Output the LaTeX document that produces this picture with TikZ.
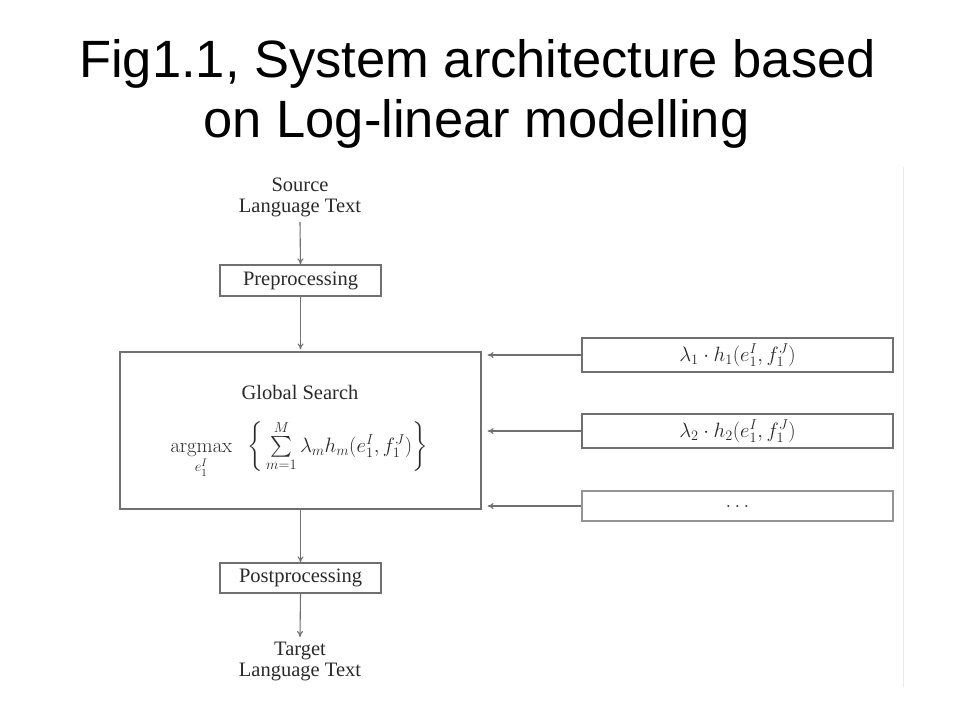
\documentclass[tikz,border=0pt]{standalone}
\usepackage[no-math]{fontspec}
\usepackage{amsmath}
\setmainfont{Liberation Serif}
\newfontfamily\titlefont{Liberation Sans}
\usetikzlibrary{arrows.meta,calc}
\definecolor{linec}{HTML}{707070}
\definecolor{txtc}{HTML}{2A2A2A}
\tikzset{
  boxst/.style={draw=linec, line width=1.2pt, rectangle, inner sep=0pt, text=txtc,
    font=\fontsize{20.5}{22}\selectfont},
  txtst/.style={text=txtc, align=center, inner sep=5pt,
    font=\fontsize{20.5}{21}\selectfont},
  arr/.style={draw=linec, line width=1.1pt, -{To[length=6pt,width=6pt]}},
  titlest/.style={text=black, inner sep=0pt, anchor=base,
    font=\titlefont\fontsize{52.5}{52.5}\selectfont}
}
\begin{document}
\begin{tikzpicture}[x=1pt,y=-1pt]
\useasboundingbox[fill=white] (0,0) rectangle (960,720);
% title
\node[titlest] (t1) at (477.5,77) {Fig1.1, System architecture based};
\node[titlest] (t2) at (476.5,137) {on Log-linear modelling};
% faint frame edge
\draw[black!8, line width=0.8pt] (903,167) -- (903,687);
% main column
\node[txtst, anchor=south] (src) at (300,222) {Source\\Language Text};
\node[boxst, minimum width=161pt, minimum height=31pt] (pre) at (300.5,280.5) {Preprocessing};
\node[boxst, minimum width=361pt, minimum height=157pt] (gs) at (300.5,430.5) {};
\node[text=txtc, inner sep=0pt, font=\fontsize{20.5}{22}\selectfont] (gst) at (300,392) {Global Search};
\node[text=txtc, inner sep=0pt, anchor=base, font=\fontsize{21}{22}\selectfont] (gsf) at (299,452)
  {$\operatorname*{argmax}\limits_{e_1^I}\;\;\bigg\{\sum\limits_{m=1}^{M}\lambda_m h_m(e_1^I,f_1^J)\bigg\}$};
\node[boxst, minimum width=161pt, minimum height=30pt] (post) at (300.5,578) {Postprocessing};
\node[txtst, anchor=north] (tgt) at (300,637) {Target\\Language Text};
% feature functions
\node[boxst, minimum width=311pt, minimum height=34pt] (f1) at (737.5,355) {$\lambda_1\cdot h_1(e_1^I,f_1^J)$};
\node[boxst, minimum width=311pt, minimum height=34pt] (f2) at (737.5,431) {$\lambda_2\cdot h_2(e_1^I,f_1^J)$};
\node[boxst, draw=linec!75, minimum width=311pt, minimum height=30pt] (f3) at (737.5,506) {$\ldots$};
% connectors
\draw[arr] (src.south) -- (pre.north);
\draw[arr, shorten >=2pt] (pre.south) -- (gs.north);
\draw[arr] (gs.south) -- (post.north);
\draw[arr] (post.south) -- (tgt.north);
\draw[arr, shorten >=6pt] (f1.west) -- (f1.west -| gs.east);
\draw[arr, shorten >=6pt] (f2.west) -- (f2.west -| gs.east);
\draw[arr, shorten >=6pt] (f3.west) -- (f3.west -| gs.east);
\end{tikzpicture}
\end{document}
